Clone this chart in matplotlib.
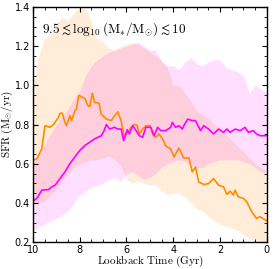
import matplotlib
matplotlib.use('Agg')
import matplotlib.pyplot as plt
import numpy as np
from matplotlib.ticker import MultipleLocator

plt.rcParams['mathtext.fontset'] = 'cm'

# median lines (lookback time in Gyr, SFR)
t_orange = [10.0, 9.83, 9.62, 9.48, 9.27, 9.12, 8.91, 8.84, 8.74, 8.63, 8.56, 8.42, 8.35,
            8.21, 8.14, 8.04, 7.78, 7.64, 7.57, 7.46, 7.36, 7.17, 7.08, 6.86, 6.65, 6.51,
            6.37, 6.23, 6.09, 5.94, 5.81, 5.67, 5.55, 5.45, 5.31, 5.17, 4.99, 4.89, 4.75,
            4.61, 4.46, 4.32, 4.11, 3.97, 3.76, 3.55, 3.33, 3.19, 3.05, 2.91, 2.70, 2.49,
            2.28, 2.06, 1.85, 1.71, 1.57, 1.43, 1.36, 1.22, 1.00, 0.86, 0.65, 0.44, 0.30, 0.0]
sfr_orange = [0.617, 0.625, 0.676, 0.794, 0.786, 0.80, 0.836, 0.858, 0.858, 0.81, 0.794, 0.845, 0.82,
              0.87, 0.878, 0.949, 0.933, 0.895, 0.892, 0.96, 0.912, 0.909, 0.853, 0.828, 0.82, 0.845,
              0.865, 0.82, 0.735, 0.76, 0.786, 0.80, 0.797, 0.752, 0.777, 0.794, 0.794, 0.752, 0.735,
              0.752, 0.727, 0.69, 0.676, 0.634, 0.68, 0.629, 0.629, 0.558, 0.583, 0.507, 0.494, 0.499,
              0.524, 0.49, 0.482, 0.443, 0.46, 0.44, 0.465, 0.431, 0.423, 0.406, 0.355, 0.321, 0.33, 0.308]

t_magenta = [10.0, 9.83, 9.62, 9.33, 9.19, 9.05, 8.84, 8.63, 8.42, 8.21, 8.0, 7.78, 7.57, 7.36,
             7.08, 6.95, 6.86, 6.72, 6.51, 6.37, 6.23, 6.12, 5.97, 5.88, 5.73, 5.59, 5.45, 5.31,
             5.17, 4.96, 4.82, 4.67, 4.53, 4.32, 4.11, 4.04, 3.90, 3.76, 3.61, 3.55, 3.38, 3.19,
             3.05, 2.84, 2.70, 2.49, 2.28, 2.06, 1.85, 1.71, 1.57, 1.36, 1.14, 0.93, 0.79, 0.58,
             0.44, 0.30, 0.0]
sfr_magenta = [0.41, 0.423, 0.465, 0.468, 0.482, 0.49, 0.524, 0.558, 0.60, 0.634, 0.667, 0.693, 0.71, 0.727,
               0.743, 0.77, 0.80, 0.777, 0.786, 0.777, 0.777, 0.718, 0.774, 0.752, 0.794, 0.769, 0.743, 0.735,
               0.786, 0.786, 0.743, 0.786, 0.769, 0.769, 0.786, 0.811, 0.786, 0.794, 0.777, 0.794, 0.828, 0.82,
               0.82, 0.769, 0.794, 0.777, 0.752, 0.777, 0.76, 0.777, 0.76, 0.777, 0.769, 0.786, 0.76, 0.769,
               0.752, 0.743, 0.743]

# scatter bands
t_band = [10.0, 9.75, 9.5, 9.25, 9.0, 8.75, 8.5, 8.25, 8.0, 7.75, 7.5, 7.25, 7.0, 6.75,
          6.5, 6.25, 6.0, 5.75, 5.5, 5.25, 5.0, 4.75, 4.5, 4.25, 4.0, 3.75, 3.5, 3.25,
          3.0, 2.75, 2.5, 2.25, 2.0, 1.75, 1.5, 1.25, 1.0, 0.75, 0.5, 0.25, 0.0]
orange_hi = [0.98, 1.15, 1.24, 1.26, 1.31, 1.35, 1.33, 1.37, 1.40, 1.40, 1.32, 1.24, 1.22, 1.19,
             1.18, 1.20, 1.21, 1.22, 1.21, 1.19, 1.17, 1.15, 1.13, 1.09, 1.00, 1.00, 0.96, 0.92,
             0.87, 0.85, 0.83, 0.80, 0.78, 0.75, 0.72, 0.69, 0.66, 0.63, 0.60, 0.58, 0.56]
orange_lo = [0.40, 0.40, 0.41, 0.44, 0.47, 0.51, 0.55, 0.58, 0.60, 0.61, 0.62, 0.62, 0.63, 0.64,
             0.62, 0.59, 0.52, 0.50, 0.51, 0.50, 0.49, 0.49, 0.46, 0.44, 0.45, 0.45, 0.43, 0.40,
             0.37, 0.36, 0.33, 0.31, 0.29, 0.28, 0.27, 0.26, 0.24, 0.22, 0.20, 0.19, 0.18]
magenta_hi = [0.60, 0.65, 0.70, 0.75, 0.80, 0.84, 0.88, 0.93, 0.97, 1.05, 1.10, 1.13, 1.15, 1.17,
              1.18, 1.19, 1.20, 1.21, 1.22, 1.20, 1.18, 1.18, 1.12, 1.10, 1.10, 1.08, 1.12, 1.14,
              1.11, 1.10, 1.12, 1.13, 1.13, 1.09, 1.08, 1.07, 1.05, 0.96, 1.00, 0.98, 0.96]
magenta_lo = [0.25, 0.28, 0.29, 0.31, 0.32, 0.34, 0.36, 0.40, 0.44, 0.46, 0.48, 0.49, 0.50, 0.52,
              0.53, 0.51, 0.55, 0.56, 0.54, 0.52, 0.53, 0.55, 0.58, 0.60, 0.61, 0.62, 0.61, 0.59,
              0.58, 0.58, 0.60, 0.61, 0.62, 0.62, 0.62, 0.62, 0.61, 0.60, 0.58, 0.56, 0.55]

fig, ax = plt.subplots(figsize=(2.74, 2.69), dpi=100)
fig.subplots_adjust(left=0.12, right=0.974, bottom=0.1, top=0.974)

ax.fill_between(t_band, orange_lo, orange_hi, color='darkorange', alpha=0.15, lw=0)
ax.fill_between(t_band, magenta_lo, magenta_hi, color='magenta', alpha=0.13, lw=0)
ax.plot(t_orange, sfr_orange, color='darkorange', lw=1.2)
ax.plot(t_magenta, sfr_magenta, color='magenta', lw=1.2)

ax.set_xlim(10, 0)
ax.set_ylim(0.2, 1.4)
ax.xaxis.set_major_locator(MultipleLocator(2))
ax.xaxis.set_minor_locator(MultipleLocator(0.5))
ax.yaxis.set_major_locator(MultipleLocator(0.2))
ax.yaxis.set_minor_locator(MultipleLocator(0.05))
ax.tick_params(which='both', direction='in', top=True, right=True, labelsize=7, pad=2)
ax.tick_params(which='major', length=3.5, width=0.8)
ax.tick_params(which='minor', length=2, width=0.6)
for s in ax.spines.values():
    s.set_linewidth(1.0)

ax.set_xlabel(r'$\mathrm{Lookback\ Time\ (Gyr)}$', fontsize=8, labelpad=-0.5)
ax.set_ylabel(r'$\mathrm{SFR\ (M_{\odot}/yr)}$', fontsize=8, labelpad=-0.5)
ax.text(0.04, 0.905, r'$9.5 \lesssim \log_{10}(\mathrm{M_{*}/M_{\odot}}) \lesssim 10$',
        transform=ax.transAxes, fontsize=9.5, va='center', ha='left')

fig.savefig('out.png', dpi=100)
